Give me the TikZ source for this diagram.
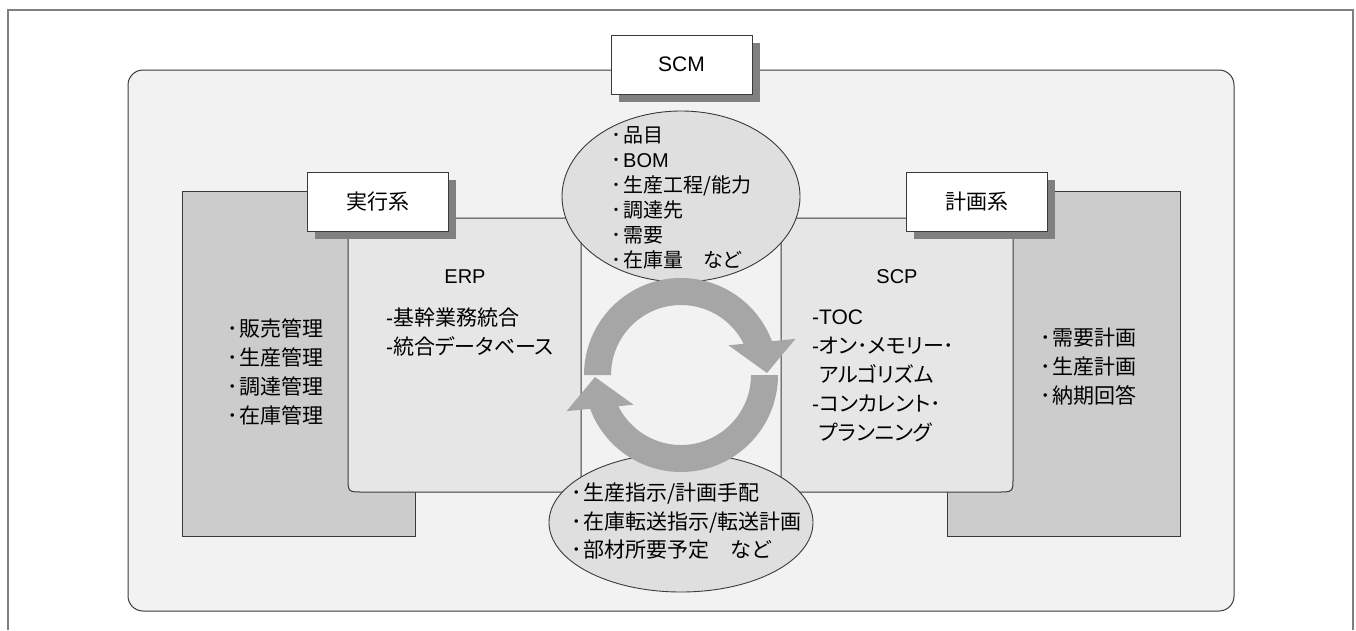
\documentclass[tikz,border=0pt]{standalone}
\usepackage{fontspec}
\setmainfont{Liberation Sans}
\newfontfamily\jp[RawFeature=+palt]{Noto Sans CJK JP}
\newfontfamily\lat{Liberation Sans}
\usetikzlibrary{shapes.geometric,shadows}
\newcommand{\dt}{･\kern2pt}
\definecolor{framec}{HTML}{808080}
\definecolor{bgc}{HTML}{F2F2F2}
\definecolor{darkbox}{HTML}{CCCCCC}
\definecolor{midbox}{HTML}{E6E6E6}
\definecolor{ellc}{HTML}{DFDFDF}
\definecolor{arrowc}{HTML}{A6A6A6}
\definecolor{shadowc}{HTML}{808080}
\definecolor{linec}{HTML}{3A3A3A}
\begin{document}
\begin{tikzpicture}[x=1pt,y=-1pt,
  labelbox/.style={draw=linec, fill=white, line width=1pt, minimum width=141pt, minimum height=59pt, inner sep=0pt,
    general shadow={fill=shadowc, shadow xshift=8pt, shadow yshift=-8pt}},
  txt/.style={inner sep=0pt, align=left, anchor=west, text=black, font=\jp\fontsize{21}{29}\selectfont},
  boxline/.style={draw=linec, line width=1pt},
  ell/.style={ellipse, draw=linec, fill=ellc, line width=0.9pt, inner sep=0pt}
]
\useasboundingbox (0,0) rectangle (1356,630);
% outer frame
\draw[framec, line width=2pt] (8,630) -- (8,10) -- (1353,10) -- (1353,630);
% SCM area
\draw[boxline, fill=bgc, rounded corners=15pt] (128,70) rectangle (1234,611);
\node[labelbox, font=\lat\fontsize{21}{24}\selectfont] (scm) at (681.5,64.5) {SCM};
% outer grey boxes
\draw[boxline, fill=darkbox] (182,191) rectangle (415,536);
\draw[boxline, fill=darkbox] (947,191) rectangle (1180,536);
% ERP and SCP boxes
\draw[boxline, fill=midbox] (348,218) -- (581,218) -- (581,492) -- (363,492) .. controls (348,492) .. (348,477) -- cycle;
\draw[boxline, fill=midbox] (781,218) -- (1013,218) -- (1013,477) .. controls (1013,492) .. (998,492) -- (781,492) -- cycle;
% label boxes
\node[labelbox, font=\jp\fontsize{21}{24}\selectfont] (exec) at (377.5,201.5) {実行系};
\node[labelbox, font=\jp\fontsize{21}{24}\selectfont] (plan) at (976.5,201.5) {計画系};
% ellipses
\node[ell, minimum width=238pt, minimum height=171pt] (topell) at (681,196.5) {};
\node[ell, minimum width=264pt, minimum height=139pt] (botell) at (681,522.5) {};
% circular arrows
\begin{scope}[shift={(681,375)}, yscale=-1]
  \foreach \r in {0,180}{
    \fill[arrowc, rotate=\r] (180:97) arc[start angle=180, end angle=20.4, radius=97]
      -- (114.4,36.1) -- (86,2) -- (47.5,29.7) -- (26.5:70)
      arc[start angle=26.5, end angle=180, radius=70] -- cycle;
  }
\end{scope}
% texts
\node[txt] (leftlist) at (227,371.5) {\dt 販売管理\\\dt 生産管理\\\dt 調達管理\\\dt 在庫管理};
\node[txt] (rightlist) at (1040,367) {\dt 需要計画\\\dt 生産計画\\\dt 納期回答};
\node[inner sep=0pt, font=\lat\fontsize{20}{24}\selectfont] (erp) at (465,277) {ERP};
\node[txt] (erplist) at (386,332.5) {{\lat -}基幹業務統合\\{\lat -}統合データベース};
\node[inner sep=0pt, font=\lat\fontsize{20}{24}\selectfont] (scp) at (897,277) {SCP};
\node[txt] (scplist) at (812,375.5) {{\lat -TOC}\\{\lat -}オン･メモリー･\\\phantom{\lat -}アルゴリズム\\{\lat -}コンカレント･\\\phantom{\lat -}プランニング};
\node[txt, font=\jp\fontsize{20}{25}\selectfont] (toplist) at (611,197.5) {\dt 品目\\\dt{\lat BOM}\\\dt 生産工程/能力\\\dt 調達先\\\dt 需要\\\dt 在庫量　など};
\node[txt, font=\jp\fontsize{21}{28.5}\selectfont] (botlist) at (571,521.5) {\dt 生産指示/計画手配\\\dt 在庫転送指示/転送計画\\\dt 部材所要予定　など};
\end{tikzpicture}
\end{document}
